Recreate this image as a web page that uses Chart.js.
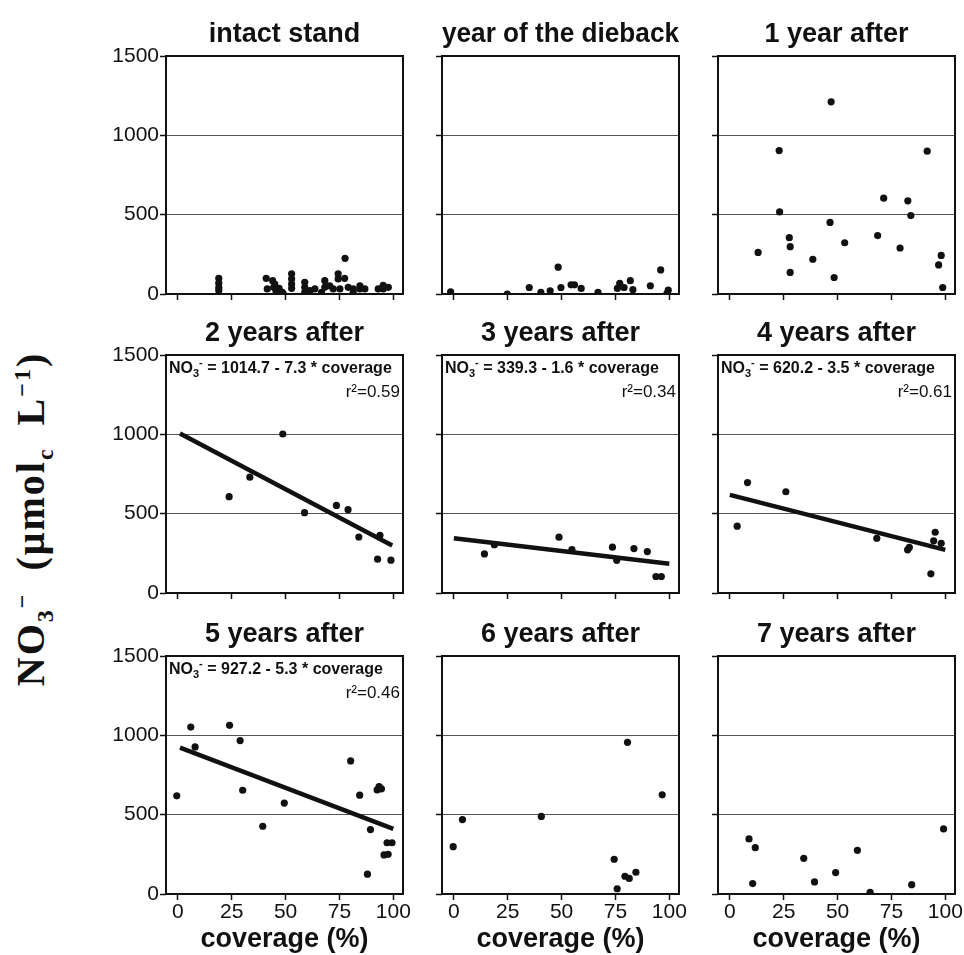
<!DOCTYPE html>
<html lang="en">
<head>
<meta charset="UTF-8" />
<title>Nitrate vs coverage</title>
<script src="https://cdn.jsdelivr.net/npm/chart.js@4"></script>
<style>
  body { margin: 0; background: #fff; }
  #wrap { position: relative; width: 964px; height: 955px; overflow: hidden; background: #fff; }
  #wrap canvas { position: absolute; }
  #ylab {
    position: absolute; left: 33px; top: 519px;
    transform: translate(-50%, -50%) rotate(-90deg);
    font: bold 40px "Liberation Serif", "Times New Roman", serif;
    letter-spacing: 2px; word-spacing: 10px;
    white-space: nowrap; color: #111;
  }
  #ylab sub, #ylab sup { font-size: 60%; }
</style>
</head>
<body>
<div id="wrap">
  <div id="ylab">NO<sub>3</sub><sup>&minus;</sup> (&mu;mol<sub>c</sub> L<sup>&minus;1</sup>)</div>
</div>
<script>
// values
const titles = ['intact stand', 'year of the dieback', '1 year after',
  '2 years after', '3 years after', '4 years after',
  '5 years after', '6 years after', '7 years after'];
const xTicks = [0, 25, 50, 75, 100];
const yTicks = [0, 500, 1000, 1500];

const intactStand = [[19,99],[19,68],[19,40],[19,21],[41,99],[41.5,32],[44,84],[45,63],[44.5,42],[45.5,21],
  [47,36],[48.5,10],[49,0],[52.8,127],[52.8,95],[52.8,63],[52.8,36],[58.9,74],[58.9,42],[58.9,10],
  [61.3,21],[63.6,32],[66.7,10],[68.2,84],[68.2,42],[70.5,52],[72.1,32],[74.4,127],[74.4,95],[75.2,32],
  [77.6,225],[77.4,99],[79.1,42],[81.4,32],[81.4,10],[84.5,52],[84.5,32],[86.8,32],[93,32],[95.3,55],
  [95.3,32],[97.7,42]];
const yearOfDieback = [[-1.5,14],[24.8,0],[35,41],[40.4,10],[44.7,20],[48.4,169],[49.7,41],[54.4,58],[56,58],
  [59.1,35],[66.9,10],[75.9,35],[77,67],[79,41],[81.9,84],[83.1,27],[91.2,52],[96,152],[99.5,24],[98.9,3]];
const oneYearAfter = [[47,1211],[22.9,904],[91.6,900],[71.4,604],[82.6,587],[23.1,517],[84,494],[46.5,451],
  [27.6,355],[68.6,368],[28,298],[53.3,323],[79,290],[13.1,262],[38.5,219],[98.1,243],[96.9,183],
  [28,136],[48.4,104],[98.8,41]];
const twoYearsAfter = [[48.7,1002],[23.8,607],[33.4,730],[58.8,506],[73.6,552],[79,525],[84,353],[93.8,364],
  [92.7,213],[98.9,207]];
const threeYearsAfter = [[14.2,246],[18.8,304],[48.8,352],[54.8,274],[73.6,289],[75.6,206],[83.6,280],
  [89.8,261],[93.8,104],[96.3,104]];
const fourYearsAfter = [[8.2,696],[26,638],[3.4,421],[68.2,345],[82.5,272],[83.3,287],[95.3,383],[94.6,329],
  [98.1,313],[93.3,121]];
const fiveYearsAfter = [[-0.5,619],[6,1052],[8,927],[24,1063],[28.9,967],[30.1,654],[39.4,427],[49.4,573],
  [80.2,839],[84.4,623],[89.4,406],[88,125],[92.5,656],[93.4,677],[94.5,663],[95.7,246],[97.6,250],
  [97.1,323],[99.4,323]];
const sixYearsAfter = [[80.6,956],[96.7,625],[4,469],[40.6,489],[-0.3,298],[74.4,219],[79.4,112],[81.4,98],
  [84.5,137],[75.8,33]];
const sevenYearsAfter = [[8.9,347],[11.8,292],[10.6,66],[34.3,225],[39.3,76],[49.1,135],[59.2,275],[65.1,11],
  [84.4,59],[99.2,410]];

// regression line ends as drawn, and the printed fits
const fitLines = [null, null, null, [[1,1005],[99.5,300]], [[0,345],[100,185]], [[0,618],[100,272]],
  [[1,922],[100,410]], null, null];
const intercepts = [null, null, null, 1014.7, 339.3, 620.2, 927.2, null, null];
const slopes = [null, null, null, 7.3, 1.6, 3.5, 5.3, null, null];
const rSquared = [null, null, null, '0.59', '0.34', '0.61', '0.46', null, null];

const panels = [intactStand, yearOfDieback, oneYearAfter, twoYearsAfter, threeYearsAfter,
  fourYearsAfter, fiveYearsAfter, sixYearsAfter, sevenYearsAfter];

const FONT = '"Liberation Sans", Arial, Helvetica, sans-serif';
Chart.defaults.font.family = FONT;
Chart.defaults.color = '#111';

const colLeft = [166, 442, 718];
const rowTop = [56, 355, 656];
const PW = 237, PH = 238, TOP = 38;

const boxPlugin = {
  id: 'box',
  beforeDatasetsDraw(chart) {
    const a = chart.chartArea, ctx = chart.ctx;
    ctx.save();
    ctx.strokeStyle = '#111';
    ctx.lineWidth = 2;
    ctx.strokeRect(a.left, a.top, a.right - a.left, a.bottom - a.top);
    ctx.restore();
  }
};

function fitTextPlugin(i) {
  return {
    id: 'fitText',
    afterDraw(chart) {
      if (intercepts[i] === null) return;
      const a = chart.chartArea, ctx = chart.ctx;
      ctx.save();
      ctx.fillStyle = '#111';
      ctx.textBaseline = 'middle';
      let x = a.left + 3;
      const y = a.top + 14;
      ctx.font = 'bold 16px ' + FONT;
      ctx.fillText('NO', x, y);
      x += ctx.measureText('NO').width;
      ctx.font = 'bold 11px ' + FONT;
      ctx.fillText('3', x, y + 5);
      x += ctx.measureText('3').width;
      ctx.fillText('-', x, y - 6);
      x += ctx.measureText('-').width;
      ctx.font = 'bold 16px ' + FONT;
      ctx.fillText(' = ' + intercepts[i] + ' - ' + slopes[i] + ' * coverage', x, y);
      ctx.font = '17px ' + FONT;
      ctx.textAlign = 'right';
      ctx.fillText('r\u00b2=' + rSquared[i], a.right - 3, a.top + 37);
      ctx.restore();
    }
  };
}

const wrap = document.getElementById('wrap');

panels.forEach((pts, i) => {
  const col = i % 3, row = Math.floor(i / 3);
  const padL = col === 0 ? 72 : 8;
  const padR = 12;
  const padB = row === 2 ? 62 : 14;
  const canvas = document.createElement('canvas');
  canvas.width = padL + PW + padR;
  canvas.height = TOP + PH + padB;
  canvas.style.left = (colLeft[col] - padL) + 'px';
  canvas.style.top = (rowTop[row] - TOP) + 'px';
  wrap.appendChild(canvas);

  const datasets = [{
    data: pts.map(([x, y]) => ({ x, y })),
    backgroundColor: '#111',
    borderWidth: 0,
    pointRadius: 3.6,
    pointHoverRadius: 3.6
  }];
  if (fitLines[i]) {
    datasets.push({
      type: 'line',
      data: fitLines[i].map(([x, y]) => ({ x, y })),
      borderColor: '#111',
      borderWidth: 4.5,
      pointRadius: 0,
      showLine: true,
      fill: false
    });
  }

  new Chart(canvas.getContext('2d'), {
    type: 'scatter',
    data: { datasets },
    options: {
      responsive: false,
      animation: false,
      devicePixelRatio: 1,
      layout: { padding: { left: 0, right: padR, top: 0, bottom: 0 } },
      plugins: {
        legend: { display: false },
        tooltip: { enabled: false },
        title: {
          display: true,
          text: titles[i],
          fullSize: false,
          color: '#111',
          font: { size: 27, weight: 'bold' },
          padding: { top: 0, bottom: 5.6 }
        }
      },
      scales: {
        x: {
          type: 'linear',
          min: -5.5, max: 104.5,
          afterBuildTicks: s => { s.ticks = xTicks.map(v => ({ value: v })); },
          afterFit: s => { s.height = padB; },
          grid: { color: 'rgba(0,0,0,0)', tickColor: '#111', tickLength: 6, tickWidth: 1.5 },
          border: { display: false },
          ticks: { display: row === 2, font: { size: 21 }, padding: 0, maxRotation: 0, callback: v => String(v) },
          title: {
            display: row === 2,
            text: 'coverage (%)',
            font: { size: 27, weight: 'bold' },
            padding: { top: 0, bottom: 0.6 }
          }
        },
        y: {
          min: 0, max: 1500,
          afterBuildTicks: s => { s.ticks = yTicks.map(v => ({ value: v })); },
          afterFit: s => { s.width = padL; },
          grid: {
            color: c => (c.tick && (c.tick.value === 500 || c.tick.value === 1000)) ? '#555' : 'rgba(0,0,0,0)',
            lineWidth: 1,
            tickColor: '#111', tickLength: 6, tickWidth: 1.5
          },
          border: { display: false },
          ticks: { display: col === 0, font: { size: 21 }, padding: 1, callback: v => String(v) }
        }
      }
    },
    plugins: [boxPlugin, fitTextPlugin(i)]
  });
});
</script>
</body>
</html>
